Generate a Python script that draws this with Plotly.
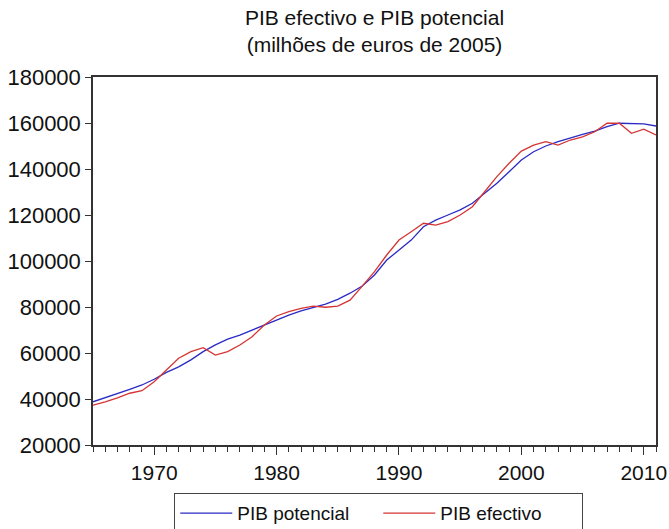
import plotly.graph_objects as go

years = list(range(1965, 2012))

pib_potencial = [38800, 40500, 42300, 44200, 46100, 48600, 51600, 54000, 57000, 60600,
                 63500, 66000, 67800, 70000, 72200, 74600, 76500, 78300, 79900, 81300,
                 83300, 86000, 89100, 93900, 100400, 104800, 109100, 114900, 117800, 120000,
                 122200, 125100, 129400, 133800, 138800, 143900, 147500, 150000, 151900, 153600,
                 155100, 156500, 158400, 159900, 159900, 159600, 158700]

pib_efectivo = [37300, 38700, 40500, 42500, 43600, 47500, 52600, 57700, 60600, 62300,
                59100, 60600, 63500, 67100, 72200, 76100, 78000, 79400, 80400, 79900,
                80400, 83000, 89100, 95400, 102600, 109100, 112700, 116400, 115600, 117100,
                120000, 123600, 130100, 136700, 142500, 147800, 150400, 151900, 150400, 152600,
                154000, 156200, 159900, 159900, 155500, 157300, 154800]

title_lines = ["PIB efectivo e PIB potencial", "(milhões de euros de 2005)"]

FONT = "Liberation Sans, Arial, sans-serif"
AXIS = "#333333"

fig = go.Figure()
fig.add_trace(go.Scatter(x=years, y=pib_potencial, mode="lines", name="PIB potencial",
                         line=dict(color="#2a2ac4", width=1.3)))
fig.add_trace(go.Scatter(x=years, y=pib_efectivo, mode="lines", name="PIB efectivo",
                         line=dict(color="#d63434", width=1.3)))

fig.update_layout(
    width=669, height=529,
    margin=dict(l=93, r=13, t=77, b=84, autoexpand=False),
    paper_bgcolor="white", plot_bgcolor="white",
    font=dict(family=FONT, size=20, color="#111111"),
    title=dict(text="<br>".join(title_lines), x=0.5, xref="paper", xanchor="center",
               y=1 - 25 / 529, yref="container", yanchor="middle",
               font=dict(size=21, color="#111111")),
    showlegend=True,
    legend=dict(orientation="h", x=0.144, xanchor="left", y=-0.1304, yanchor="top",
                bordercolor="#444444", borderwidth=1.2, font=dict(size=19),
                bgcolor="white", tracegroupgap=0, itemwidth=52,
                entrywidth=136, entrywidthmode="pixels"),
)

fig.update_xaxes(range=[1965, 2011], tickmode="linear", tick0=1970, dtick=10,
                 ticks="outside", ticklen=8, tickwidth=1.2, tickcolor=AXIS,
                 minor=dict(dtick=1, tick0=1965, ticks="outside", ticklen=5, tickwidth=1, tickcolor=AXIS),
                 showline=True, linecolor=AXIS, linewidth=1.5, mirror=True,
                 showgrid=False, zeroline=False, tickfont=dict(size=21))
fig.update_yaxes(range=[20000, 180000], tickmode="linear", tick0=20000, dtick=20000,
                 ticks="outside", ticklen=6, tickwidth=1.2, tickcolor=AXIS,
                 showline=True, linecolor=AXIS, linewidth=1.5, mirror=True,
                 showgrid=False, zeroline=False, tickfont=dict(size=22),
                 tickformat="d")

fig.write_html("out.html", config={"displayModeBar": False},
               post_script="document.body.style.margin='0';document.body.style.overflow='hidden';")
